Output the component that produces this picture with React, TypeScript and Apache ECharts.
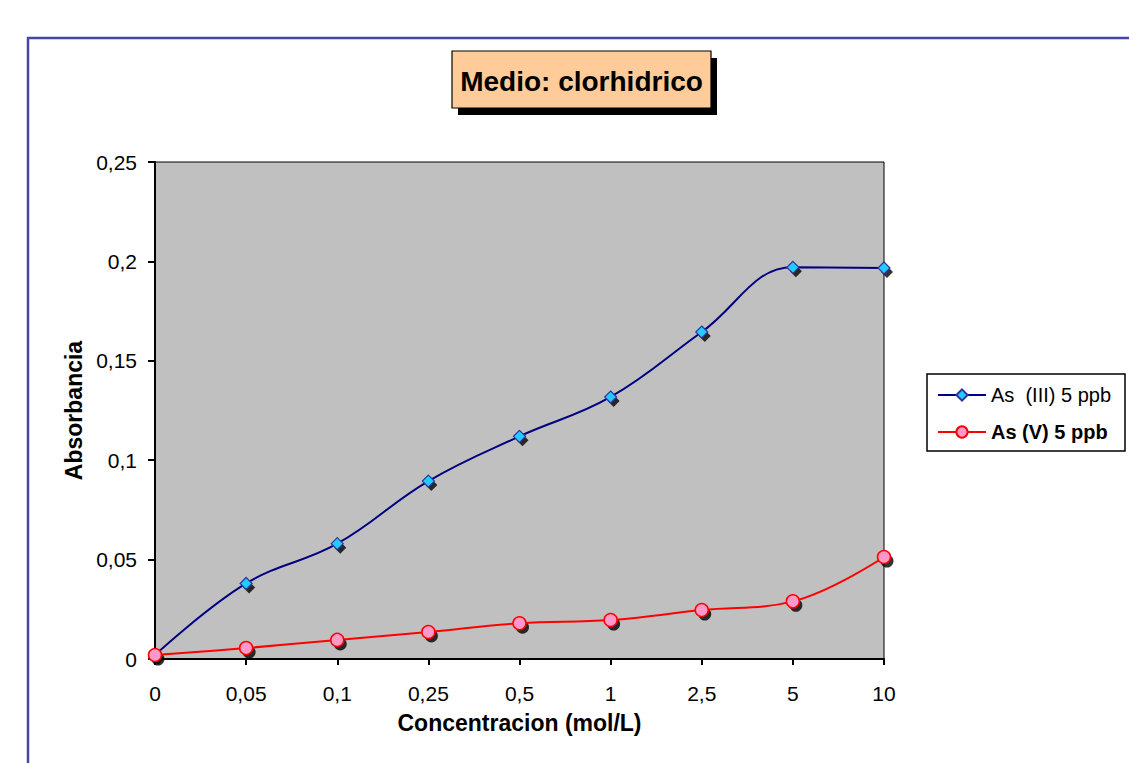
import React, { useEffect, useRef } from "react";
import * as echarts from "echarts";

const categories = ["0", "0,05", "0,1", "0,25", "0,5", "1", "2,5", "5", "10"];
const asIII = [0.002, 0.038, 0.058, 0.0895, 0.112, 0.1318, 0.1645, 0.197, 0.1967];
const asV = [0.002, 0.0055, 0.0096, 0.0136, 0.018, 0.0196, 0.0246, 0.029, 0.0513];
const seriesNames = ["As  (III) 5 ppb", "As (V) 5 ppb"];
const titleText = "Medio: clorhidrico";
const xName = "Concentracion (mol/L)";
const yName = "Absorbancia";

export default function App() {
  const ref = useRef<HTMLDivElement>(null);
  useEffect(() => {
    document.body.style.margin = "0";
    const chart = echarts.init(ref.current!, null, { renderer: "svg" });
    const font = "Arial, 'Liberation Sans', sans-serif";
    chart.setOption({
      animation: false,
      textStyle: { fontFamily: font },
      grid: {
        left: 155,
        top: 162,
        width: 729,
        height: 497,
        show: true,
        backgroundColor: "#C0C0C0",
        borderColor: "#000",
        borderWidth: 1,
      },
      legend: {
        orient: "vertical",
        left: 927,
        top: 374,
        padding: [9, 3, 7, 10],
        itemGap: 13,
        itemWidth: 48,
        itemHeight: 14,
        backgroundColor: "transparent",
        borderWidth: 0,
        textStyle: { fontFamily: font, fontSize: 20, lineHeight: 24, color: "#000" },
        data: [
          { name: seriesNames[0], textStyle: { fontWeight: "normal" } },
          { name: seriesNames[1], textStyle: { fontWeight: "bold" } },
        ],
      },
      xAxis: {
        type: "category",
        data: categories,
        boundaryGap: false,
        name: xName,
        nameLocation: "middle",
        nameGap: 52,
        nameTextStyle: { fontFamily: font, fontSize: 23, fontWeight: "bold", color: "#000" },
        axisLine: { lineStyle: { color: "#000", width: 2 } },
        axisTick: { show: true, inside: false, length: 6, alignWithLabel: true, lineStyle: { color: "#000", width: 2 } },
        axisLabel: { fontFamily: font, fontSize: 21, color: "#000", margin: 24 },
        splitLine: { show: false },
      },
      yAxis: {
        type: "value",
        min: 0,
        max: 0.25,
        interval: 0.05,
        name: yName,
        nameLocation: "middle",
        nameRotate: 90,
        nameGap: 70,
        nameTextStyle: { fontFamily: font, fontSize: 23, fontWeight: "bold", color: "#000" },
        axisLine: { show: true, lineStyle: { color: "#000", width: 2 } },
        axisTick: { show: true, length: 7, lineStyle: { color: "#000", width: 2 } },
        axisLabel: {
          fontFamily: font,
          fontSize: 21,
          color: "#000",
          margin: 18,
          formatter: (v: number) => String(Math.round(v * 100) / 100).replace(".", ","),
        },
        splitLine: { show: false },
      },
      series: [
        {
          name: "shadowIII",
          type: "scatter",
          data: asIII,
          symbol: "diamond",
          symbolSize: 12,
          symbolOffset: [3, 4],
          itemStyle: { color: "#000" },
          silent: true,
          z: 1,
        },
        {
          name: "shadowV",
          type: "scatter",
          data: asV,
          symbol: "circle",
          symbolSize: 13,
          symbolOffset: [3, 4],
          itemStyle: { color: "#000" },
          silent: true,
          z: 1,
        },
        {
          name: seriesNames[0],
          type: "line",
          data: asIII,
          smooth: 0.4,
          symbol: "diamond",
          symbolSize: 12,
          showAllSymbol: true,
          lineStyle: { color: "#000080", width: 2 },
          itemStyle: { color: "#22CCFF", borderColor: "#3333A0", borderWidth: 1.2 },
          z: 3,
        },
        {
          name: seriesNames[1],
          type: "line",
          data: asV,
          smooth: 0.4,
          symbol: "circle",
          symbolSize: 13,
          showAllSymbol: true,
          lineStyle: { color: "#FF0000", width: 2 },
          itemStyle: { color: "#FF99CC", borderColor: "#FF0000", borderWidth: 1.5 },
          z: 3,
        },
      ],
      graphic: [
        {
          type: "polyline",
          shape: { points: [[28, 800], [28, 38], [1140, 38]] },
          style: { stroke: "#4646A8", lineWidth: 2.5, fill: null },
          z: 0,
        },
        {
          type: "rect",
          shape: { x: 927, y: 374, width: 198, height: 77 },
          style: { fill: "#fff", stroke: "#000", lineWidth: 1.5 },
          z: -1,
          silent: true,
        },
        {
          type: "rect",
          shape: { x: 458, y: 58, width: 259, height: 57 },
          style: { fill: "#000" },
          z: 10,
        },
        {
          type: "rect",
          shape: { x: 452, y: 51, width: 259, height: 57 },
          style: { fill: "#FFCC99", stroke: "#000", lineWidth: 1.2 },
          z: 11,
        },
        {
          type: "text",
          x: 581.5,
          y: 81,
          style: {
            text: titleText,
            fontFamily: font,
            fontSize: 28,
            fontWeight: "bold",
            fill: "#000",
            align: "center",
            verticalAlign: "middle",
          },
          z: 12,
        },
      ],
    });
    return () => chart.dispose();
  }, []);
  return <div ref={ref} style={{ width: 1129, height: 763 }} />;
}
